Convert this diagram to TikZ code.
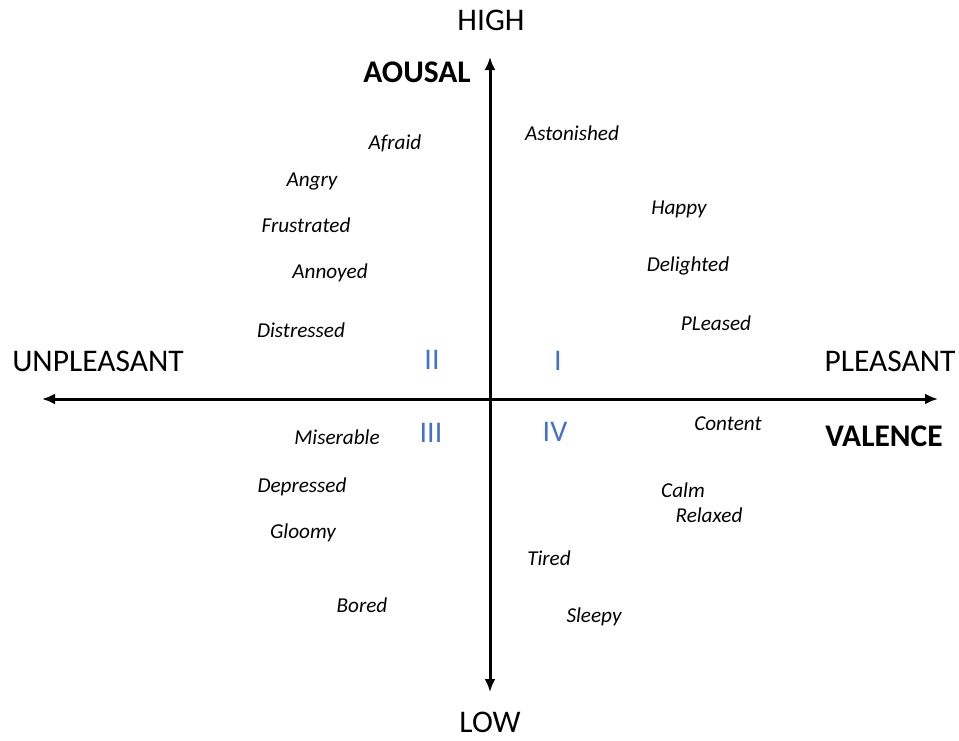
\documentclass[tikz,border=0pt]{standalone}
\usepackage{fontspec}
\setmainfont{Carlito}
\usetikzlibrary{arrows.meta}
\definecolor{quadblue}{RGB}{68,114,196}
\begin{document}
\begin{tikzpicture}[x=1pt,y=-1pt,
  axis/.style={line width=3pt,-{Latex[length=13pt,width=11pt]}},
  pole/.style={font=\fontsize{31.5}{34}\selectfont,inner sep=0pt,anchor=center},
  axname/.style={font=\bfseries\fontsize{31.5}{34}\selectfont,inner sep=0pt,anchor=center},
  quad/.style={font=\fontsize{30}{33}\selectfont,text=quadblue,inner sep=0pt,anchor=center},
  mood/.style={font=\itshape\fontsize{21.2}{24}\selectfont,inner sep=0pt,anchor=center}]
\useasboundingbox (0,0) rectangle (959,740);

% axes
\coordinate (origin) at (490,399);
\coordinate (ytop) at (490,57);
\coordinate (ybot) at (490,692);
\coordinate (xleft) at (42,399);
\coordinate (xright) at (938,399);
\draw[axis] (origin) -- (ytop);
\draw[axis] (origin) -- (ybot);
\draw[axis] (origin) -- (xleft);
\draw[axis] (origin) -- (xright);

% axis ends and names
\node[pole] (high) at (491,20) {HIGH};
\node[pole] (low) at (490,722) {LOW};
\node[pole] (unpl) at (98,361) {UNPLEASANT};
\node[pole] (pl) at (890,361) {PLEASANT};
\node[axname] (arousal) at (417,72) {AOUSAL};
\node[axname] (valence) at (884,436) {VALENCE};

% quadrant numbers
\node[quad] (q1) at (558,361) {I};
\node[quad] (q2) at (432,360) {II};
\node[quad] (q3) at (431,433) {III};
\node[quad] (q4) at (555,432) {IV};

% emotion words
\node[mood] (afraid) at (395,143) {Afraid};
\node[mood] (astonished) at (572,133) {Astonished};
\node[mood] (angry) at (312,182) {Angry};
\node[mood] (frustrated) at (306,225) {Frustrated};
\node[mood] (happy) at (679,209) {Happy};
\node[mood] (annoyed) at (330,273) {Annoyed};
\node[mood] (delighted) at (688,266) {Delighted};
\node[mood] (distressed) at (301,330) {Distressed};
\node[mood] (pleased) at (716,323) {PLeased};
\node[mood] (content) at (728,424) {Content};
\node[mood] (miserable) at (337,437) {Miserable};
\node[mood] (depressed) at (302,487) {Depressed};
\node[mood] (calm) at (683,490) {Calm};
\node[mood] (relaxed) at (709,515) {Relaxed};
\node[mood] (gloomy) at (303,533) {Gloomy};
\node[mood] (tired) at (549,558) {Tired};
\node[mood] (bored) at (362,605) {Bored};
\node[mood] (sleepy) at (594,617) {Sleepy};
\end{tikzpicture}
\end{document}
